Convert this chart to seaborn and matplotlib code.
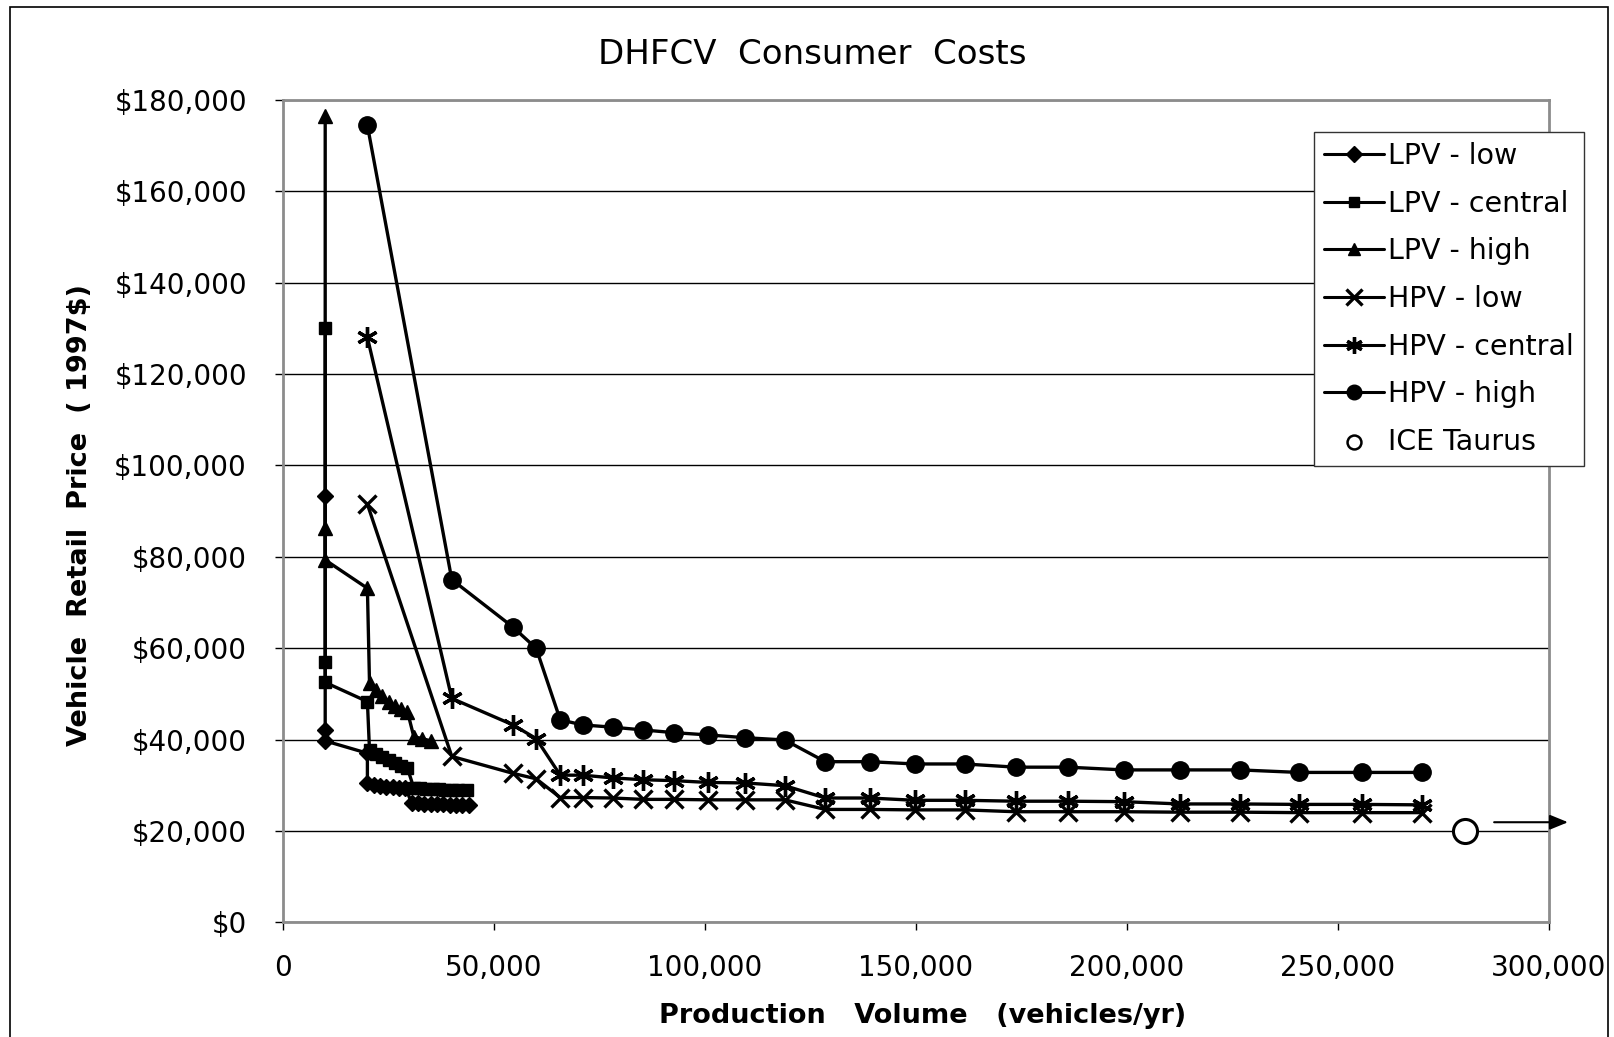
import matplotlib
matplotlib.use("Agg")
import matplotlib.pyplot as plt
import seaborn as sns
import pandas as pd
from matplotlib.ticker import FuncFormatter, MultipleLocator
from matplotlib.patches import Rectangle

# ---------------- data ----------------
lpv_low_x = [10000, 10000, 10000, 20000, 20000, 21500, 23000, 24500, 26000, 27500, 29000,
             30500, 32000, 33500, 35000, 36500, 38000, 39500, 41000, 42500, 44000]
lpv_low_y = [93200, 42100, 39700, 37000, 30400, 30000, 29800, 29700, 29600, 29500, 29500,
             26100, 26000, 25900, 25900, 25800, 25800, 25700, 25700, 25700, 25600]

lpv_central_x = [10000, 10000, 10000, 20000, 20500, 22000, 23500, 25000, 26500, 28000, 29500,
                 31000, 32500, 34000, 35500, 37000, 38500, 40000, 41500, 43500]
lpv_central_y = [130000, 57000, 52500, 48300, 37600, 36800, 36200, 35500, 34900, 34300, 33700,
                 29400, 29300, 29200, 29200, 29100, 29000, 29000, 28900, 28900]

lpv_high_x = [10000, 10000, 10000, 20000, 20500, 22000, 23500, 25000, 26500, 28000, 29500,
              31000, 33000, 35000]
lpv_high_y = [176500, 86200, 79300, 73100, 52300, 50800, 49500, 48300, 47300, 46700, 46100,
              40600, 40200, 39700]

hpv_x = [20000, 40000, 54500, 60000, 65700, 71000, 78100, 85300, 92700, 100800, 109500, 118900,
         128500, 139000, 149700, 161500, 173600, 186000, 199200, 212500, 226700, 240700, 255600, 270000]
hpv_low_y = [91500, 36300, 32600, 31400, 27300, 27300, 27200, 26900, 26900, 26800, 26800, 26800,
             24700, 24700, 24600, 24600, 24200, 24200, 24200, 24100, 24100, 24000, 24000, 24000]
hpv_central_y = [128000, 49000, 43200, 40200, 32200, 32200, 31600, 31200, 31000, 30600, 30500, 29900,
                 27200, 27200, 26700, 26700, 26500, 26500, 26400, 25900, 25900, 25800, 25800, 25700]
hpv_high_y = [174400, 75000, 64600, 59950, 44300, 43200, 42700, 42100, 41500, 41000, 40400, 39900,
              35150, 35150, 34650, 34650, 33950, 33950, 33350, 33350, 33350, 32800, 32800, 32800]

ice_x = [280000]
ice_y = [20000]

series_labels = ["LPV - low", "LPV - central", "LPV - high",
                 "HPV - low", "HPV - central", "HPV - high", "ICE Taurus"]

# ---------------- style ----------------
sns.set_style("white")
plt.rcParams["font.family"] = ["DejaVu Sans"]
plt.rcParams["text.color"] = "black"
plt.rcParams["axes.labelcolor"] = "black"

W, H = 1614, 1037
fig = plt.figure(figsize=(W / 100, H / 100), dpi=100)
ax_l, ax_r, ax_t, ax_b = 283, 1549, 99.8, 922.3
ax = fig.add_axes([ax_l / W, 1 - ax_b / H, (ax_r - ax_l) / W, (ax_b - ax_t) / H])

star = (6, 2, 0)
specs = [
    (lpv_low_x, lpv_low_y, series_labels[0], "D", 8, 1.0),
    (lpv_central_x, lpv_central_y, series_labels[1], "s", 8, 1.0),
    (lpv_high_x, lpv_high_y, series_labels[2], "^", 9.5, 1.0),
    (hpv_x, hpv_low_y, series_labels[3], "x", 13, 2.4),
    (hpv_x, hpv_central_y, series_labels[4], star, 15, 2.4),
    (hpv_x, hpv_high_y, series_labels[5], "o", 12.5, 1.0),
]
for xs, ys, lab, mk, ms, mew in specs:
    df = pd.DataFrame({"x": xs, "y": ys})
    sns.lineplot(data=df, x="x", y="y", ax=ax, sort=False, estimator=None,
                 color="black", lw=2.4, marker=mk, markersize=ms,
                 markeredgewidth=mew, markeredgecolor="black",
                 markerfacecolor="black", label=lab, zorder=3)

ice_df = pd.DataFrame({"x": ice_x, "y": ice_y})
sns.scatterplot(data=ice_df, x="x", y="y", ax=ax, marker="o", s=300,
                facecolor="white", edgecolor="black", linewidth=2.2,
                label=series_labels[6], zorder=4, clip_on=False)

# arrow beyond the ICE point
ax.annotate("", xy=(304500, 21900), xytext=(287000, 21900), xycoords="data",
            annotation_clip=False,
            arrowprops=dict(arrowstyle="-|>,head_length=1.1,head_width=0.45",
                            color="black", lw=1.5, shrinkA=0, shrinkB=0))

# axes
ax.set_xlim(0, 300000)
ax.set_ylim(0, 180000)
ax.xaxis.set_major_locator(MultipleLocator(50000))
ax.yaxis.set_major_locator(MultipleLocator(20000))
ax.xaxis.set_major_formatter(FuncFormatter(lambda v, p: f"{v:,.0f}"))
ax.yaxis.set_major_formatter(FuncFormatter(lambda v, p: f"${v:,.0f}"))
ax.yaxis.grid(True, color="black", lw=1.0)
ax.xaxis.grid(False)
ax.set_axisbelow(True)
for sp in ax.spines.values():
    sp.set_color("#8c8c8c")
    sp.set_linewidth(2.0)
    sp.set_visible(True)
ax.tick_params(axis="both", direction="out", length=6, width=1, color="black",
               labelsize=20, labelcolor="black")
ax.tick_params(axis="y", pad=20, left=True)
ax.tick_params(axis="x", pad=17, bottom=True)

ax.set_xlabel("Production   Volume   (vehicles/yr)", fontsize=19.5, fontweight="bold")
ax.xaxis.label.set_va("center")
ax.xaxis.set_label_coords((923 - ax_l) / (ax_r - ax_l), (ax_b - 1016) / (ax_b - ax_t))
ax.set_ylabel("Vehicle  Retail  Price  ( 1997$)", fontsize=19.5, fontweight="bold")
ax.yaxis.label.set_va("center")
ax.yaxis.set_label_coords((80 - ax_l) / (ax_r - ax_l), (ax_b - 515) / (ax_b - ax_t))

fig.text(812 / W, 1 - 55 / H, "DHFCV  Consumer  Costs", ha="center", va="center",
         fontsize=24.5, color="black")

# legend
leg = ax.legend(loc="upper left", bbox_to_anchor=(1314 / W, 1 - 132 / H),
                bbox_transform=fig.transFigure, fontsize=20.5, frameon=True,
                fancybox=False, framealpha=1, edgecolor="#333333",
                handlelength=2.1, handletextpad=0.15, labelspacing=0.69,
                borderpad=0.35, borderaxespad=0)
leg.get_frame().set_linewidth(1.0)
for t in leg.get_texts():
    t.set_color("black")
leg_sizes = [8, 6.5, 8, 11, 12, 10.5]
handles = leg.legend_handles
for h, s in zip(handles[:6], leg_sizes):
    h.set_markersize(s)
    h.set_linewidth(2.2)
handles[6].set_sizes([100])
handles[6].set_linewidth(1.8)

# outer border
fig.patches.append(Rectangle((10 / W, -0.02), (1608 - 10) / W, 1.02 - 7 / H,
                             transform=fig.transFigure, fill=False,
                             edgecolor="black", lw=1.2))

fig.savefig("out.png", dpi=100)
